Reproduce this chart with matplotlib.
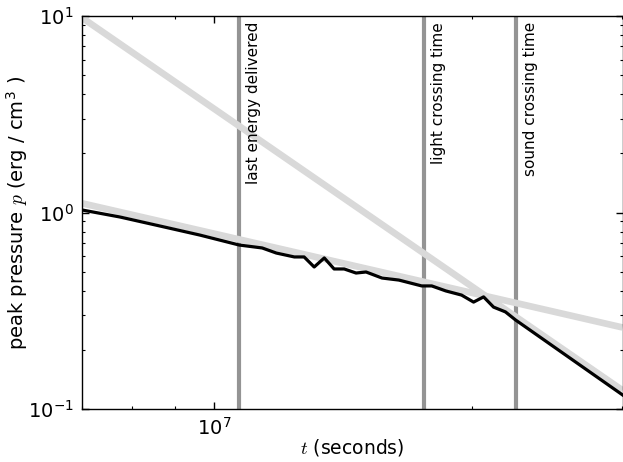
import matplotlib
matplotlib.use("Agg")
import matplotlib.pyplot as plt
import matplotlib.transforms as mtransforms
from matplotlib.ticker import NullFormatter

plt.rcParams["axes.unicode_minus"] = False
plt.rcParams["mathtext.fontset"] = "cm"

# --- data ---
t_sim = [7.0e6, 7.75e6, 8.63e6, 9.61e6, 1.069e7, 1.137e7, 1.181e7, 1.240e7,
         1.273e7, 1.308e7, 1.344e7, 1.380e7, 1.418e7, 1.464e7, 1.504e7,
         1.570e7, 1.643e7, 1.747e7, 1.795e7, 1.864e7, 1.945e7, 2.009e7,
         2.064e7, 2.120e7, 2.189e7, 2.249e7, 3.0e7]
p_sim = [1.03, 0.949, 0.854, 0.768, 0.683, 0.660, 0.622, 0.594,
         0.594, 0.528, 0.587, 0.516, 0.516, 0.492, 0.498,
         0.464, 0.453, 0.423, 0.423, 0.399, 0.380, 0.350,
         0.372, 0.330, 0.312, 0.284, 0.118]

t_steep = [7.0e6, 3.0e7]
p_steep = [9.8, 0.1245]

t_shallow = [7.0e6, 3.0e7]
p_shallow = [1.114, 0.26]

event_times = [1.069e7, 1.757e7, 2.25e7]
event_labels = ["last energy delivered", "light crossing time", "sound crossing time"]

xlim = (7.0e6, 3.0e7)
ylim = (0.1, 10.0)

# --- figure ---
W, H = 623, 462
fig = plt.figure(figsize=(W / 100, H / 100), dpi=100)
ax = fig.add_axes([82 / W, 1 - 409 / H, (622.5 - 82) / W, (409 - 16) / H])
ax.set_xscale("log")
ax.set_yscale("log")

for t in event_times:
    ax.axvline(t, color="#949494", lw=3.0, zorder=1)

ax.plot(t_steep, p_steep, color="#d9d9d9", lw=4.8, solid_capstyle="butt", zorder=2)
ax.plot(t_shallow, p_shallow, color="#d9d9d9", lw=4.8, solid_capstyle="butt", zorder=2)
ax.plot(t_sim, p_sim, color="black", lw=2.3, zorder=3)

blend = mtransforms.blended_transform_factory(ax.transData, ax.transAxes)
for t, lab in zip(event_times, event_labels):
    tr = blend + mtransforms.ScaledTranslation(5 / 72, 0, fig.dpi_scale_trans)
    ax.text(t, 0.985, lab, rotation=90, ha="left", va="top",
            transform=tr, fontsize=11, zorder=4)

ax.set_xlim(*xlim)
ax.set_ylim(*ylim)
ax.xaxis.set_minor_formatter(NullFormatter())
ax.yaxis.set_minor_formatter(NullFormatter())

ax.tick_params(which="both", direction="in", top=True, right=True)
ax.tick_params(which="major", length=5, width=1, labelsize=14, pad=6)
ax.tick_params(which="minor", length=2.5, width=0.8)
for s in ax.spines.values():
    s.set_linewidth(1.0)

ax.set_xlabel(r"$t$ (seconds)", fontsize=13.5)
ax.set_ylabel(r"peak pressure $p$ (erg / cm$^\mathdefault{3}$ )", fontsize=14)
ax.xaxis.set_label_coords(0.5, -0.072)
ax.yaxis.set_label_coords(-0.096, 0.5)

fig.savefig("out.png", dpi=100)
